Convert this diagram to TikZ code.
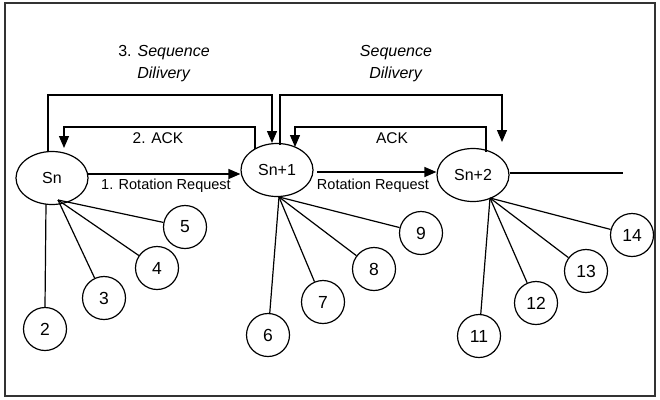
\documentclass[tikz,border=0pt]{standalone}
\usepackage{fontspec}
\setmainfont{Liberation Sans}
\usetikzlibrary{shapes.geometric,arrows.meta}
\newcommand\myfs[1]{\fontsize{#1}{#1}\selectfont}
\tikzset{
  ell/.style={draw, ellipse, minimum width=72pt, minimum height=53pt, inner sep=0pt, line width=1.2pt, font=\myfs{16}},
  num/.style={draw, circle, minimum size=43pt, inner sep=0pt, line width=1.2pt, font=\myfs{17.5}},
  arr/.style={line width=1.3pt, -{Triangle[length=12pt,width=10pt]}},
  ln/.style={line width=1.2pt},
  lbl/.style={font=\myfs{15.5}, inner sep=0pt},
}
\begin{document}
\begin{tikzpicture}[x=1pt,y=-1pt]
\useasboundingbox (0,0) rectangle (660,399);
\draw[line width=1.4pt, black!80] (5,3) rectangle (655,396);

% main nodes
\node[ell] (sn)  at (52,178) {Sn};
\node[ell] (sn1) at (277,170) {Sn+1};
\node[ell] (sn2) at (473,175) {Sn+2};

% numbered nodes
\node[num] (n2)  at (45,329) {2};
\node[num] (n3)  at (104,298) {3};
\node[num] (n4)  at (157,268) {4};
\node[num] (n5)  at (185,227) {5};
\node[num] (n6)  at (268,335) {6};
\node[num] (n7)  at (323,302) {7};
\node[num] (n8)  at (374,269) {8};
\node[num] (n9)  at (421,233) {9};
\node[num] (n11) at (479,336) {11};
\node[num] (n12) at (536,303) {12};
\node[num] (n13) at (586,271) {13};
\node[num] (n14) at (632,235) {14};

% spoke origins
\coordinate (o1) at (58,200);
\coordinate (o1v) at (46,204);
\coordinate (o2) at (279,197);
\coordinate (o3) at (490,198);

\draw[ln] (o1v) -- (n2.north);
\draw[ln] (o1) -- (n3);
\draw[ln] (o1) -- (n4);
\draw[ln] (o1) -- (n5);
\draw[ln] (o2) -- (n6);
\draw[ln] (o2) -- (n7);
\draw[ln] (o2) -- (n8);
\draw[ln] (o2) -- (n9);
\draw[ln] (o3) -- (n11);
\draw[ln] (o3) -- (n12);
\draw[ln] (o3) -- (n13);
\draw[ln] (o3) -- (n14);

% tail line from Sn+2
\coordinate (tail) at (623,173);
\draw[ln] (sn2.east |- tail) -- (tail);

% rotation requests
\coordinate (r1s) at (87,174);
\coordinate (r2s) at (317,172);
\draw[arr] (r1s) -- (sn1.west |- r1s);
\draw[arr] (r2s) -- (sn2.west |- r2s);
\node[lbl, font=\myfs{14.5}] (l1) at (166,186) {1. Rotation Request};
\node[lbl, font=\myfs{14.5}] (l2) at (373,186) {Rotation Request};

% ACKs
\coordinate (a1s) at (255,149);
\coordinate (a1c) at (64,127);
\coordinate (a1e) at (64,148);
\draw[arr] (a1s) |- (a1c) -- (a1e);
\node[lbl] (la1) at (158,138) {2. ACK};

\coordinate (a2s) at (486,152);
\coordinate (a2c) at (295,127);
\coordinate (a2e) at (295,147);
\draw[arr] (a2s) |- (a2c) -- (a2e);
\node[lbl] (la2) at (392,138) {ACK};

% sequence delivery
\coordinate (s1s) at (48,151);
\coordinate (s1c) at (272,95);
\coordinate (s1e) at (272,143);
\draw[arr] (s1s) |- (s1c) -- (s1e);
\node[lbl, font=\myfs{16}, align=center] (ls1) at (164,64) {3. \textit{Sequence}\\[6pt]\textit{Dilivery}};

\coordinate (s2s) at (280,145);
\coordinate (s2c) at (502,95);
\coordinate (s2e) at (502,142);
\draw[arr] (s2s) |- (s2c) -- (s2e);
\node[lbl, font=\myfs{16}, align=center] (ls2) at (396,64) {\textit{Sequence}\\[6pt]\textit{Dilivery}};
\end{tikzpicture}
\end{document}
